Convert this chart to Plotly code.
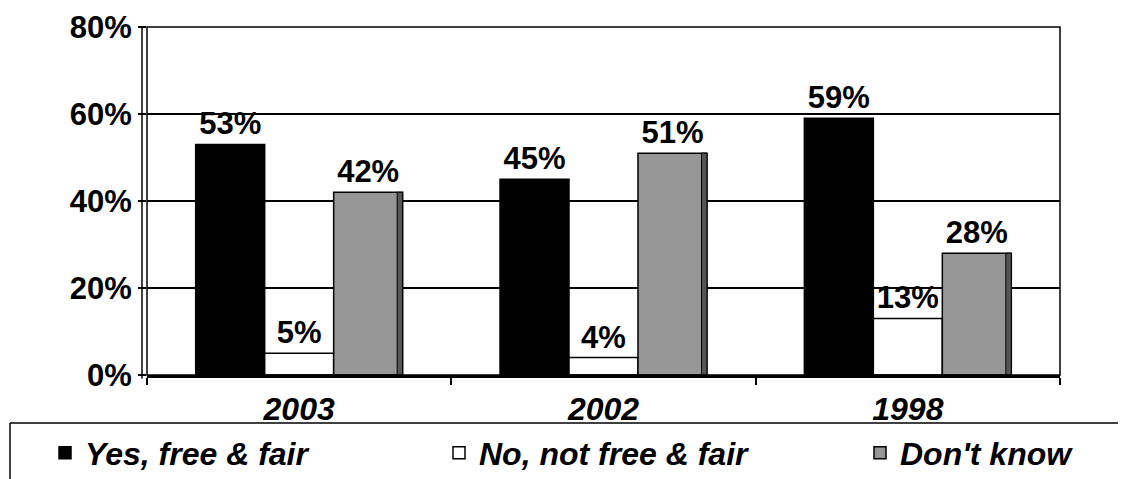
import plotly.graph_objects as go

years = ["2003", "2002", "1998"]
series_names = ["Yes, free & fair", "No, not free & fair", "Don't know"]
yes_vals = [53, 45, 59]
no_vals = [5, 4, 13]
dk_vals = [42, 51, 28]
y_ticks = [0, 20, 40, 60, 80]
y_tick_labels = ["0%", "20%", "40%", "60%", "80%"]

FONT = "Liberation Sans, Arial, sans-serif"
colors = ["#000000", "#FFFFFF", "#969696"]
values = [yes_vals, no_vals, dk_vals]
legend_ids = ["legend", "legend2", "legend3"]

# the page body has an 8px margin; compensate so the picture lands where intended
OFF = 8
W, H = 1126 - OFF, 479 - OFF
# target plot area in window pixels: x 147..1060, y 27..375
L, T = 147 - OFF, 27 - OFF
R = W - (1060 - OFF)
B = H - (375 - OFF)
pw, ph = W - L - R, H - T - B

def px_x(p):
    return (p - OFF - L) / pw

def px_y(p):
    return (T + ph - (p - OFF)) / ph

BARGAP = 0.32
fig = go.Figure()
for name, vals, col, lg in zip(series_names, values, colors, legend_ids):
    fig.add_trace(go.Bar(
        x=years, y=vals, name=name,
        marker=dict(color=col, line=dict(color="#000000", width=1.5)),
        text=[f"{v}%" for v in vals], textposition="outside",
        textfont=dict(family=FONT, size=31, color="#000000", weight="bold"),
        cliponaxis=False, legend=lg, showlegend=True,
    ))

# darker right-hand side face of the grey bars (pseudo-3D edge), on an overlaid axis
bw = (1 - BARGAP) / 3
edge_w = 0.018
fig.add_trace(go.Bar(
    x=years, y=dk_vals, xaxis="x2", showlegend=False, hoverinfo="skip",
    offset=1.5 * bw - edge_w, width=edge_w,
    marker=dict(color="#555555", line=dict(color="#000000", width=1)),
))

legend_common = dict(
    orientation="h", xref="paper", yref="paper", yanchor="middle", xanchor="left",
    bgcolor="rgba(0,0,0,0)", borderwidth=0,
    font=dict(family=FONT, size=32, color="#000000", weight="bold", style="italic"),
)
leg_y = px_y(453)

fig.update_layout(
    width=W, height=H,
    margin=dict(l=L, r=R, t=T, b=B, autoexpand=False),
    paper_bgcolor="white", plot_bgcolor="white",
    showlegend=True,
    barmode="group", bargap=BARGAP, bargroupgap=0,
    font=dict(family=FONT, size=31, color="#000000"),
    legend=dict(x=px_x(45), y=leg_y, **legend_common),
    legend2=dict(x=px_x(439), y=leg_y, **legend_common),
    legend3=dict(x=px_x(860), y=leg_y, **legend_common),
    xaxis=dict(
        showgrid=False, showline=True, linecolor="#000000", linewidth=2.5,
        ticks="outside", tickson="boundaries", ticklen=7, tickcolor="#000000", tickwidth=1.5,
        tickfont=dict(family=FONT, size=32, color="#000000", weight="bold", style="italic"),
        ticklabelstandoff=4,
        automargin=False,
    ),
    xaxis2=dict(
        overlaying="x", matches="x", visible=False, showgrid=False,
    ),
    yaxis=dict(
        range=[0, 80], tickvals=y_ticks, ticktext=y_tick_labels,
        showgrid=True, gridcolor="#000000", gridwidth=1.5,
        showline=False, zeroline=False,
        ticks="outside", ticklen=8, tickcolor="#000000", tickwidth=1.5,
        tickfont=dict(family=FONT, size=31, color="#000000", weight="bold"),
        automargin=False,
    ),
    shapes=[
        dict(type="rect", xref="paper", yref="paper", x0=0, x1=1, y0=0, y1=1,
             line=dict(color="#000000", width=1.5), layer="above"),
        dict(type="line", xref="paper", yref="paper", x0=px_x(142), x1=px_x(142), y0=-0.01, y1=1,
             line=dict(color="#000000", width=1.5)),
        # legend frame: top and left edges (right/bottom fall outside the picture)
        dict(type="line", xref="paper", yref="paper", x0=px_x(10), x1=px_x(1126),
             y0=px_y(423), y1=px_y(423), line=dict(color="#000000", width=1.5)),
        dict(type="line", xref="paper", yref="paper", x0=px_x(10), x1=px_x(10),
             y0=px_y(423), y1=px_y(480), line=dict(color="#000000", width=1.5)),
    ],
)

fig.write_html("out.html")
